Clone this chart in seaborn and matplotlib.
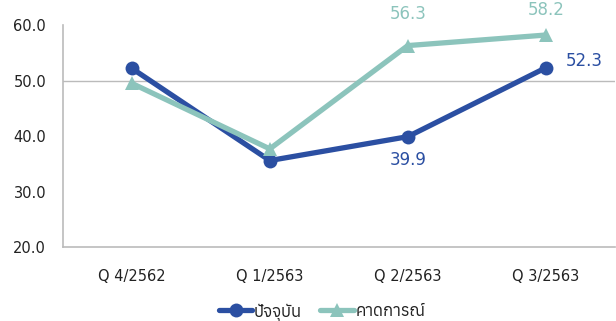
import matplotlib
matplotlib.use('Agg')
import matplotlib.pyplot as plt
import seaborn as sns
import pandas as pd
from matplotlib import font_manager
from fontTools.ttLib import TTFont

# data
quarters = ['Q 4/2562', 'Q 1/2563', 'Q 2/2563', 'Q 3/2563']
current = [52.2, 35.6, 39.9, 52.3]
forecast = [49.5, 37.7, 56.3, 58.2]
series_names = ['ปัจจุบัน', 'คาดการณ์']

blue = '#2B4FA2'
teal = '#8CC4BC'

sns.set_style('white')

# find a font that has thai glyphs
thai_fonts = []
for f in font_manager.fontManager.ttflist:
    try:
        if 0x0E1B in TTFont(f.fname, fontNumber=0).getBestCmap():
            thai_fonts.append(f.name)
    except Exception:
        pass
plt.rcParams['font.family'] = ['DejaVu Sans'] + sorted(set(thai_fonts))

df = pd.DataFrame({
    'quarter': quarters * 2,
    'value': current + forecast,
    'series': [series_names[0]] * 4 + [series_names[1]] * 4,
})
df['x'] = list(range(4)) * 2

fig = plt.figure(figsize=(6.16, 3.21), dpi=100)
ax = fig.add_axes([0.102, 0.23, 0.896, 0.692])

sns.lineplot(data=df, x='x', y='value', hue='series', style='series',
             palette=[blue, teal], markers=['o', '^'], dashes=False,
             linewidth=3.8, markersize=10, markeredgewidth=0, ax=ax)

ax.set_xlim(-0.5, 3.5)
ax.set_ylim(20, 60)
ax.set_yticks([20, 30, 40, 50, 60])
ax.set_yticklabels([f'{v:.1f}' for v in [20, 30, 40, 50, 60]])
ax.set_xticks(range(4))
ax.set_xticklabels(quarters)
ax.tick_params(axis='y', length=0, pad=12, labelsize=10.5, labelcolor='#222222')
ax.tick_params(axis='x', length=0, pad=16, labelsize=10.5, labelcolor='#222222')
ax.set_xlabel('')
ax.set_ylabel('')
ax.axhline(50, color='#BBBBBB', lw=1, zorder=0)
for s in ['top', 'right']:
    ax.spines[s].set_visible(False)
for s in ['left', 'bottom']:
    ax.spines[s].set_color('#BBBBBB')
    ax.spines[s].set_linewidth(1.2)

# value labels
ax.annotate(f'{current[2]:.1f}', (2, current[2]), xytext=(0, -17), textcoords='offset points',
            ha='center', va='center', color=blue, fontsize=12)
ax.annotate(f'{current[3]:.1f}', (3, current[3]), xytext=(28, 5), textcoords='offset points',
            ha='center', va='center', color=blue, fontsize=12)
ax.annotate(f'{forecast[2]:.1f}', (2, forecast[2]), xytext=(0, 23), textcoords='offset points',
            ha='center', va='center', color=teal, fontsize=12)
ax.annotate(f'{forecast[3]:.1f}', (3, forecast[3]), xytext=(0, 18), textcoords='offset points',
            ha='center', va='center', color=teal, fontsize=12)

leg = ax.legend(loc='center', bbox_to_anchor=(0.47, -0.29), ncol=2, frameon=False,
                fontsize=12, handlelength=2.0, handletextpad=0.1, columnspacing=1.1)
for t in leg.get_texts():
    t.set_color('#222222')

fig.savefig('out.png', dpi=100)
